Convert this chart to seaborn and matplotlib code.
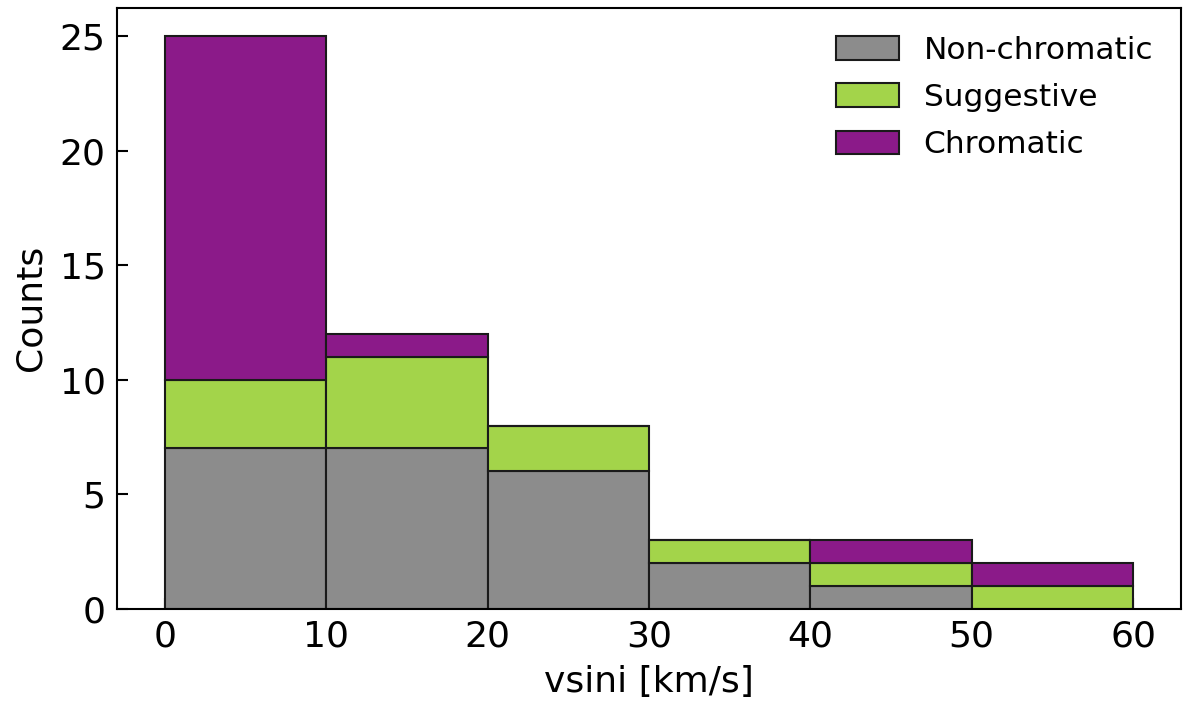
import numpy as np
import pandas as pd
import matplotlib
matplotlib.use("Agg")
import matplotlib.pyplot as plt
import seaborn as sns
from matplotlib.patches import Patch

bin_edges = [0, 10, 20, 30, 40, 50, 60]
categories = ["Non-chromatic", "Suggestive", "Chromatic"]
non_chromatic = [7, 7, 6, 2, 1, 0]
suggestive = [3, 4, 2, 1, 1, 1]
chromatic = [15, 1, 0, 0, 1, 1]
colors = {"Non-chromatic": "#8c8c8c", "Suggestive": "#a3d44a", "Chromatic": "#8b1a89"}

centers = [(a + b) / 2 for a, b in zip(bin_edges[:-1], bin_edges[1:])]
rows = []
for cat, vals in zip(categories, [non_chromatic, suggestive, chromatic]):
    for c, v in zip(centers, vals):
        rows.append({"vsini": c, "count": v, "cat": cat})
df = pd.DataFrame(rows)

sns.set_style("ticks")
plt.rcParams.update({"text.color": "black", "axes.labelcolor": "black",
                     "xtick.color": "black", "ytick.color": "black",
                     "axes.edgecolor": "black"})
fig, ax = plt.subplots(figsize=(11.91, 7.07), dpi=100)
sns.histplot(data=df, x="vsini", weights="count", hue="cat",
             hue_order=categories[::-1], bins=bin_edges, multiple="stack",
             palette=colors, alpha=1, edgecolor="#1a1a1a", linewidth=1.5,
             ax=ax, legend=False)

ax.set_xlim(-3, 63)
ax.set_ylim(0, 26.25)
ax.set_xticks([0, 10, 20, 30, 40, 50, 60])
ax.set_yticks([0, 5, 10, 15, 20, 25])
ax.tick_params(direction="in", labelsize=26, length=8, width=1.5, pad=8)
ax.set_xlabel("vsini [km/s]", fontsize=26, labelpad=8)
ax.set_ylabel("Counts", fontsize=26, labelpad=9)
for s in ax.spines.values():
    s.set_linewidth(1.5)
    s.set_visible(True)

handles = [Patch(facecolor=colors[c], edgecolor="#1a1a1a", linewidth=1.5, label=c)
           for c in categories]
ax.legend(handles=handles, loc="upper right", frameon=False, fontsize=22.5,
          handlelength=2.0, handleheight=0.78, labelspacing=0.58)

fig.subplots_adjust(left=0.098, right=0.992, top=0.989, bottom=0.139)
fig.savefig("out.png", dpi=100)
